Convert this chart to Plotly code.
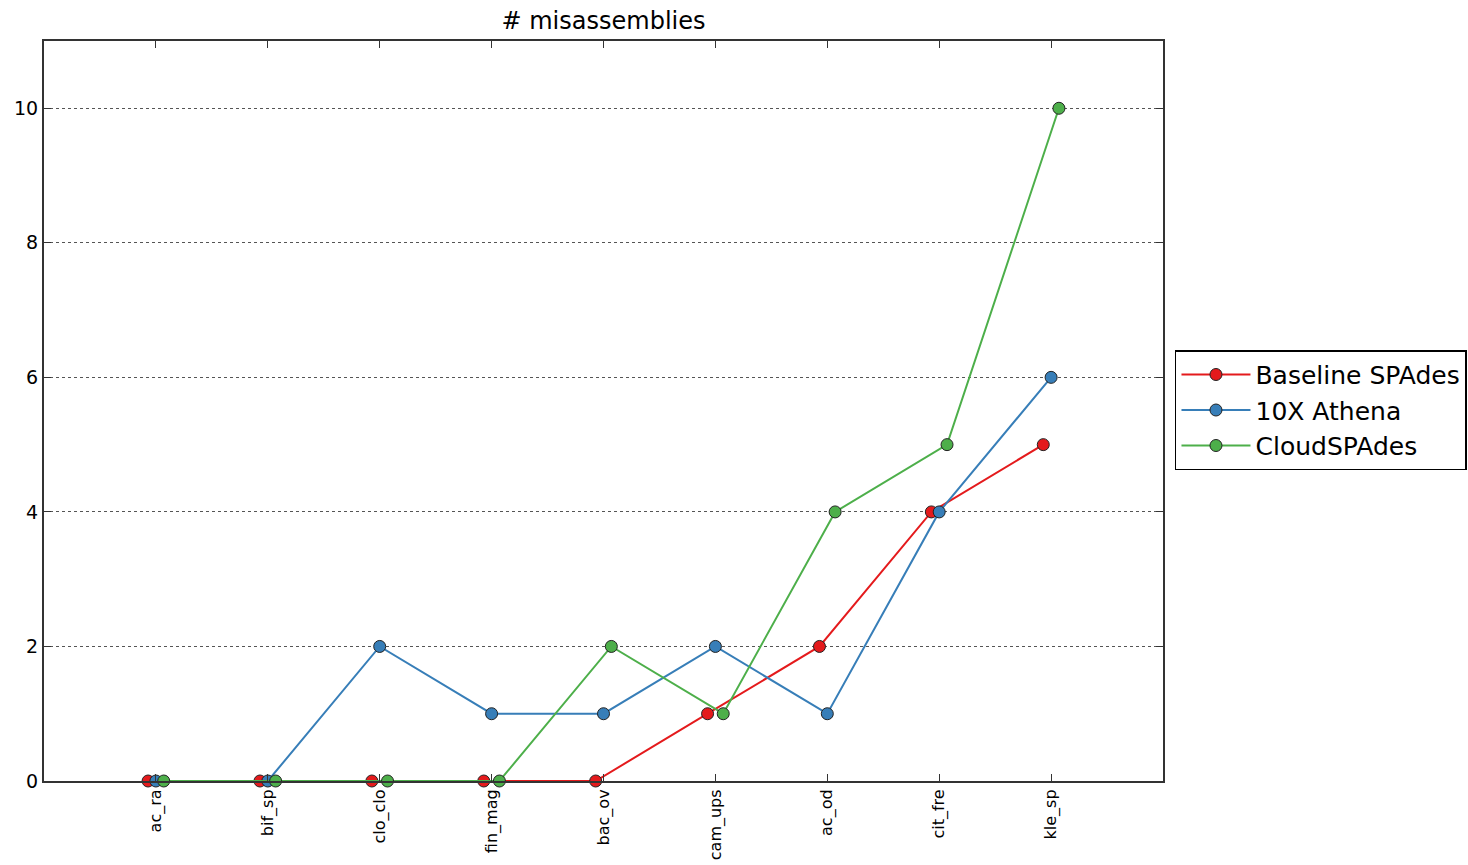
import plotly.graph_objects as go

categories = ["ac_ra", "bif_sp", "clo_clo", "fin_mag", "bac_ov", "cam_ups", "ac_od", "cit_fre", "kle_sp"]
baseline_spades = [0, 0, 0, 0, 0, 1, 2, 4, 5]
athena_10x = [0, 0, 2, 1, 1, 2, 1, 4, 6]
cloud_spades = [0, 0, 0, 0, 2, 1, 4, 5, 10]
y_ticks = [0, 2, 4, 6, 8, 10]

series = [
    ("Baseline SPAdes", baseline_spades, "#e41a1c", -0.07),
    ("10X Athena", athena_10x, "#377eb8", 0.0),
    ("CloudSPAdes", cloud_spades, "#4daf4a", 0.07),
]

fig = go.Figure()
for name, values, color, shift in series:
    xs = [i + shift for i in range(len(categories))]
    fig.add_trace(go.Scatter(
        x=xs, y=values, name=name, mode="lines+markers",
        line=dict(color=color, width=2),
        marker=dict(symbol="circle", size=12, color=color,
                    line=dict(color="#222222", width=1)),
        cliponaxis=False,
    ))

fig.update_layout(
    width=1468, height=865,
    margin=dict(l=44, r=305, t=41, b=84, autoexpand=False),
    paper_bgcolor="white", plot_bgcolor="white",
    font=dict(family="DejaVu Sans", color="black"),
    title=dict(text="# misassemblies", x=(44 + 1163) / 2 / 1468, xanchor="center",
               y=1 - 21 / 865, yanchor="middle", font=dict(size=24)),
    showlegend=True,
    legend=dict(x=1.0107, xanchor="left", y=0.501, yanchor="middle",
                bgcolor="white", bordercolor="black", borderwidth=1.5,
                font=dict(size=25), itemwidth=69),
)
fig.update_xaxes(
    range=[-1, 9], tickmode="array", tickvals=list(range(len(categories))),
    ticktext=categories, tickangle=-90, tickfont=dict(size=16),
    ticklabelstandoff=0, automargin=False,
    showgrid=False, zeroline=False,
    showline=True, linecolor="#333333", linewidth=2, mirror="ticks",
    ticks="inside", ticklen=7, tickcolor="#333333",
)
fig.update_yaxes(
    range=[0, 11], tickmode="array", tickvals=y_ticks, automargin=False,
    tickfont=dict(size=19), showgrid=True, gridcolor="#555555",
    griddash="dot", gridwidth=1, zeroline=False,
    showline=True, linecolor="#333333", linewidth=2, mirror="ticks",
    ticks="inside", ticklen=7, tickcolor="#333333",
)

fig.write_html("out.html")
